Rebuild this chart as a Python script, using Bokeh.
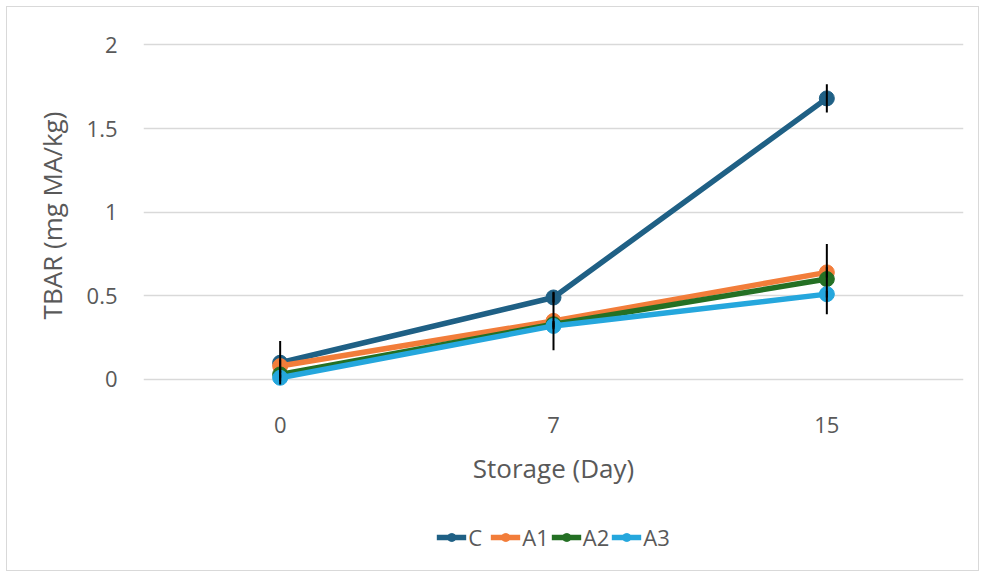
from bokeh.plotting import figure
from bokeh.layouts import column
from bokeh.models import Range1d, FactorRange, Legend, LegendItem, ColumnDataSource
from bokeh.embed import file_html
from bokeh.resources import INLINE

days = ["0", "7", "15"]
series_names = ["C", "A1", "A2", "A3"]
values = {
    "C": [0.10, 0.49, 1.68],
    "A1": [0.08, 0.35, 0.64],
    "A2": [0.03, 0.33, 0.60],
    "A3": [0.01, 0.32, 0.51],
}
errors = {
    "C": [0.13, 0.03, 0.085],
    "A1": [0.04, 0.175, 0.03],
    "A2": [0.02, 0.02, 0.21],
    "A3": [0.02, 0.02, 0.02],
}
colors = {"C": "#1f6085", "A1": "#f27d3a", "A2": "#247024", "A3": "#25a7dd"}
y_ticks = [0, 0.5, 1, 1.5, 2]
font = "Open Sans"
gray = "#595959"

p = figure(x_range=FactorRange(*days), y_range=Range1d(-0.06, 2.02),
           width=971, height=496,
           output_backend="svg", toolbar_location=None,
           min_border_left=136, min_border_right=15, min_border_top=34, min_border_bottom=114)
p.outline_line_color = None
p.xgrid.grid_line_color = None
p.ygrid.grid_line_color = "#d9d9d9"
p.ygrid.grid_line_width = 1.5
p.yaxis.ticker = y_ticks
p.yaxis.major_label_overrides = {0: "0", 0.5: "0.5", 1: "1", 1.5: "1.5", 2: "2"}
for ax in (p.xaxis[0], p.yaxis[0]):
    ax.axis_line_color = None
    ax.major_tick_line_color = None
    ax.minor_tick_line_color = None
    ax.major_tick_out = 0
    ax.major_tick_in = 0
    ax.minor_tick_out = 0
    ax.major_label_text_font = font
    ax.major_label_text_font_size = "22px"
    ax.major_label_text_color = gray
    ax.axis_label_text_font = font
    ax.axis_label_text_font_size = "26px"
    ax.axis_label_text_font_style = "normal"
    ax.axis_label_text_color = gray
p.xaxis.axis_label = "Storage (Day)"
p.yaxis.axis_label = "TBAR (mg MA/kg)"
p.yaxis.major_label_standoff = 26
p.yaxis.axis_label_standoff = 14
p.xaxis.major_label_standoff = 27
p.xaxis.axis_label_standoff = 14

for name in series_names:
    src = ColumnDataSource(dict(x=days, y=values[name]))
    p.line("x", "y", source=src, line_color=colors[name], line_width=5.5)
    p.scatter("x", "y", source=src, size=15, fill_color=colors[name], line_color=colors[name])

for name in series_names:
    lo = [v - e for v, e in zip(values[name], errors[name])]
    hi = [v + e for v, e in zip(values[name], errors[name])]
    p.segment(x0=days, y0=lo, x1=days, y1=hi, line_color="black", line_width=2)

# legend strip below the chart (its glyph renderers lie outside the visible range)
q = figure(width=971, height=67, x_range=FactorRange(*days), y_range=Range1d(5, 6),
           output_backend="svg", toolbar_location=None,
           x_axis_location=None, y_axis_location=None,
           min_border_left=0, min_border_right=0, min_border_top=0, min_border_bottom=0)
q.outline_line_color = None
q.xgrid.grid_line_color = None
q.ygrid.grid_line_color = None
items = []
for name in series_names:
    src = ColumnDataSource(dict(x=days, y=values[name]))
    l = q.line("x", "y", source=src, line_color=colors[name], line_width=5.5)
    s = q.scatter("x", "y", source=src, size=12, fill_color=colors[name], line_color=colors[name])
    items.append(LegendItem(label=name, renderers=[l, s]))
legend = Legend(items=items, orientation="horizontal", location="center",
                label_text_font=font, label_text_font_size="22px", label_text_color=gray,
                glyph_width=30, glyph_height=20, spacing=2, label_standoff=2,
                border_line_color=None, background_fill_alpha=0,
                margin=0, padding=0)
q.add_layout(legend, "center")

layout = column(p, q, spacing=0, styles={"border": "1px solid #d9d9d9", "margin": "6px"})

open("out.html", "w").write(file_html(layout, INLINE))
